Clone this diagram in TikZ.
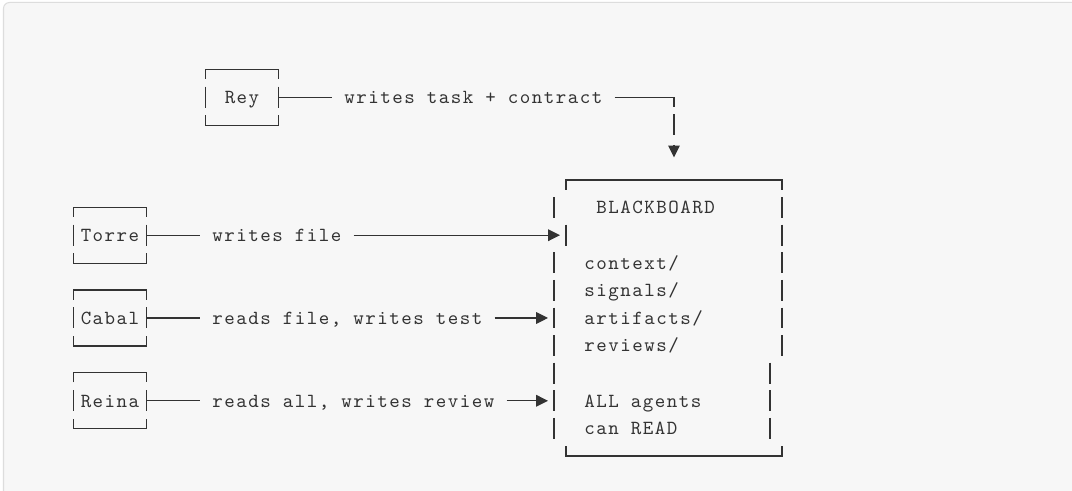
\documentclass[tikz,border=0pt]{standalone}
\usepackage{fontspec}
\newfontfamily\boardfont{lmmono10-regular.otf}[LetterSpace=7.5]
\usetikzlibrary{arrows.meta}
\definecolor{panel}{HTML}{F7F7F7}
\definecolor{rim}{HTML}{DDDDDD}
\definecolor{ink}{HTML}{333333}

\begin{document}
\begin{tikzpicture}[x=0.24cm, y=-0.552cm,
    ascii/.style={font=\boardfont\fontsize{11.38pt}{13pt}\selectfont, text=ink,
      inner sep=0pt, text height=0.256cm, text depth=0pt},
    agent/.style={ascii, minimum width=1.44cm, minimum height=1.104cm},
    says/.style={ascii, anchor=west, inner xsep=0.24cm},
    wire/.style={draw=ink, line width=0.7pt},
    feed/.style={wire, -{Triangle[length=0.236cm, width=0.232cm]}, shorten >=0.12cm}]
    \useasboundingbox (-6.1667,-6.5217) rectangle (83.1667,11.2681);
    \clip (-6.1667,-6.5217) rectangle (83.1667,11.2681);
    \fill[white] (-6.1667,-6.5217) rectangle (83.1667,11.2681);
    \filldraw[fill=panel, draw=rim, line width=0.57pt, rounded corners=0.12cm]
      (-5.875,-6.431) rectangle (90,14);

    \foreach \who/\col/\row in {Rey/14/-3, Torre/3/2, Cabal/3/5, Reina/3/8}
    {
      \node[agent] (\who) at (\col,\row) {\who};
      \draw[wire] ([yshift=-0.193cm]\who.north west) -- (\who.north west)
        -- (\who.north east) -- ([yshift=-0.193cm]\who.north east);
      \draw[wire] ([yshift=0.21cm]\who.west) -- ([yshift=-0.21cm]\who.west);
      \draw[wire] ([yshift=0.21cm]\who.east) -- ([yshift=-0.21cm]\who.east);
      \draw[wire] ([yshift=0.193cm]\who.south west) -- (\who.south west)
        -- (\who.south east) -- ([yshift=0.193cm]\who.south east);
    }

    \node[says] (Rey-says) at (21.5,-3) {writes task + contract};
    \coordinate (drop) at (50,-3);
    \coordinate (feedin) at (50,-0.82);
    \draw[wire] (Rey) -- (Rey-says);
    \draw[wire] (Rey-says) -- (drop) -- ++(0,0.35);
    \draw[wire] (50,-2.38) -- (50,-1.62);
    \draw[feed, shorten >=0pt] (50,-1.27) -- (feedin);

    \foreach \who/\row/\bar/\what in {Torre/2/41/{writes file},
      Cabal/5/40/{reads file, writes test}, Reina/8/40/{reads all, writes review}}
    {
      \node[says] (\who-says) at (10.5,\row) {\what};
      \coordinate (\who-in) at (\bar,\row);
      \draw[wire] (\who) -- (\who-says);
      \draw[feed] (\who-says) -- (\who-in);
    }

    \draw[wire] (41,0.35) -- (41,0) -- (59,0) -- (59,0.35);
    \draw[wire] (41,9.65) -- (41,10) -- (59,10) -- (59,9.65);
    \foreach \r in {1,3,4,...,9}
      \draw[wire] (40,\r-0.38) -- (40,\r+0.38);
    \draw[wire] (41,1.62) -- (41,2.38);
    \foreach \r in {1,...,6}
      \draw[wire] (59,\r-0.38) -- (59,\r+0.38);
    \foreach \r in {7,8,9}
      \draw[wire] (58,\r-0.38) -- (58,\r+0.38);

    \node[ascii, anchor=west] (title) at (43.5,1) {BLACKBOARD};
    \node[ascii, anchor=west] (ctx) at (42.5,3) {context/};
    \node[ascii, anchor=west] (sig) at (42.5,4) {signals/};
    \node[ascii, anchor=west] (art) at (42.5,5) {artifacts/};
    \node[ascii, anchor=west] (rev) at (42.5,6) {reviews/};
    \node[ascii, anchor=west] (all) at (42.5,8) {ALL agents};
    \node[ascii, anchor=west] (can) at (42.5,9) {can READ};
\end{tikzpicture}
\end{document}
